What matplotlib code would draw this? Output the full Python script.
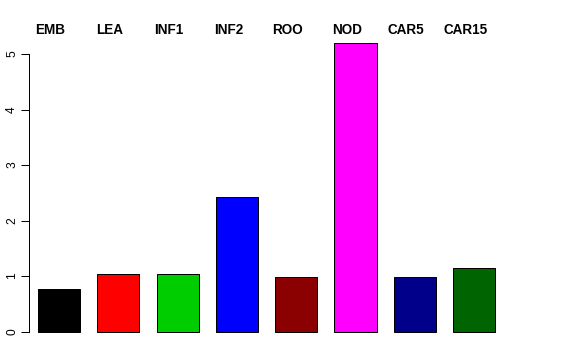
import matplotlib
matplotlib.use("Agg")
import matplotlib.pyplot as plt
import matplotlib.transforms as mtransforms
import numpy as np

tissues = ["EMB", "LEA", "INF1", "INF2", "ROO", "NOD", "CAR5", "CAR15"]
values = [0.76, 1.04, 1.04, 2.43, 0.98, 5.20, 0.98, 1.15]
colors = ["#000000", "#FF0000", "#00CD00", "#0000FF", "#8B0000", "#FF00FF", "#00008B", "#006400"]

plt.rcParams["font.family"] = ["Liberation Sans", "DejaVu Sans"]

fig = plt.figure(figsize=(8, 5), dpi=72)
# one bar step = 59.3 px; y unit = 55.5 px
step = 59.3
left_px, right_px = 29, 514
x0 = 1 - (59 - left_px) / step
x1 = 1 + (right_px - 59) / step
y0, y1 = -0.2, 5.45
bottom_px = 331.5 + 0.2 * 55.5
top_px = 331.5 - y1 * 55.5
ax = fig.add_axes([left_px / 576, 1 - bottom_px / 360,
                   (right_px - left_px) / 576, (bottom_px - top_px) / 360])

centers = np.arange(1, len(values) + 1)
ax.bar(centers, values, width=0.71, color=colors,
       edgecolor="black", linewidth=1.0)
ax.set_xlim(x0, x1)
ax.set_ylim(y0, y1)

for s in ["top", "right", "bottom"]:
    ax.spines[s].set_visible(False)
ax.spines["left"].set_bounds(0, 5)
ax.spines["left"].set_linewidth(1.0)
ax.set_xticks([])
ax.set_yticks(range(6))
ax.tick_params(axis="y", length=8, width=1.0, labelsize=12, pad=3)
for lab in ax.get_yticklabels():
    lab.set_rotation(90)
    lab.set_va("center")

trans = mtransforms.blended_transform_factory(ax.transData, fig.transFigure)
for x, name in zip(centers - 0.143, tissues):
    ax.text(x, 1 - 29.5 / 360, name, transform=trans, ha="center", va="center",
            fontsize=13.5, fontweight="bold")

fig.savefig("out.png", dpi=72)
